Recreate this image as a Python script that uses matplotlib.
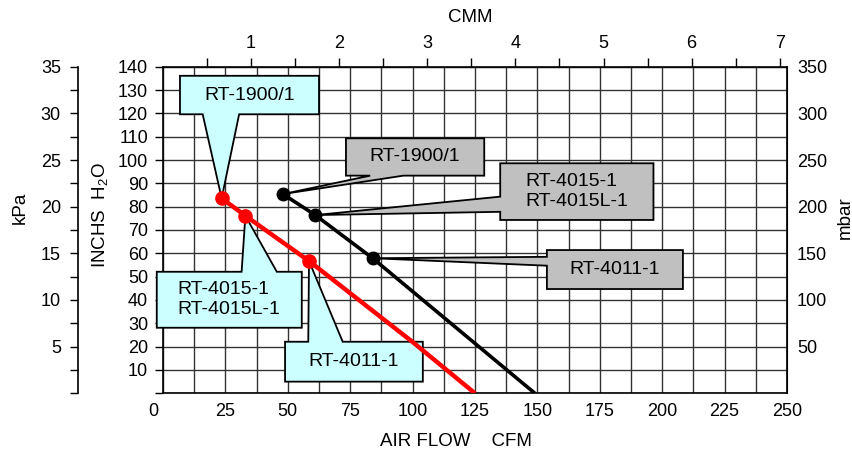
import matplotlib
matplotlib.use("Agg")
import matplotlib.pyplot as plt
import numpy as np
from matplotlib.patches import Polygon
from matplotlib.transforms import ScaledTranslation

plt.rcParams["font.family"] = ["Liberation Sans", "DejaVu Sans"]
plt.rcParams["mathtext.fontset"] = "custom"
plt.rcParams["mathtext.rm"] = "Liberation Sans"

# performance curves: air flow (CFM) vs pressure (inches H2O)
red_cfm = [23.5, 33.0, 58.5, 100.0, 125.0]
red_h2o = [83.6, 76.1, 56.7, 22.0, 0.0]
black_cfm = [48.0, 61.0, 84.0, 149.0]
black_h2o = [85.4, 76.4, 57.9, 0.0]
n_marked = 3  # first points of each curve carry a model marker

models = ["RT-1900/1", "RT-4015-1\nRT-4015L-1", "RT-4011-1"]

x_ticks = np.arange(0, 251, 25)
y_ticks = np.arange(0, 141, 10)
kpa_ticks = np.arange(5, 36, 5)
mbar_ticks = np.arange(50, 351, 50)
cmm_ticks = np.arange(1, 8)

# callout layout in data units: (x0, x1, y0, y1) box and (side, start, end) of the pointer base
red_boxes = [(6.8, 62.5, 119.6, 136.1), (-2.5, 55.6, 28.1, 52.1), (48.9, 104.1, 5.0, 22.1)]
red_bases = [("bottom", 15.9, 30.5), ("top", 31.5, 45.6), ("top", 58.2, 72.0)]
black_boxes = [(73.3, 128.7, 93.3, 109.3), (135.1, 196.5, 74.3, 98.6), (153.8, 208.3, 44.7, 61.4)]
black_bases = [("bottom", 83.0, 96.3), ("left", 77.8, 84.3), ("left", 54.7, 58.5)]

CYAN = "#ccffff"
GRAY = "#c0c0c0"


def callout(ax, tip, box, base, text, color):
    x0, x1, y0, y1 = box
    side, b0, b1 = base
    if side == "bottom":
        pts = [(x0, y1), (x1, y1), (x1, y0), (b1, y0), tip, (b0, y0), (x0, y0)]
    elif side == "top":
        pts = [(x0, y0), (x1, y0), (x1, y1), (b1, y1), tip, (b0, y1), (x0, y1)]
    else:
        pts = [(x1, y1), (x1, y0), (x0, y0), (x0, b0), tip, (x0, b1), (x0, y1)]
    ax.add_patch(Polygon(pts, closed=True, fc=color, ec="black", lw=1.3,
                         zorder=3, clip_on=False, joinstyle="miter"))
    ax.text((x0 + x1) / 2, (y0 + y1) / 2, text, ha="center", va="center",
            multialignment="left", fontsize=14, linespacing=1.2, zorder=6)


fig = plt.figure(figsize=(8.53, 4.55), dpi=100)
ax = fig.add_axes([163 / 853, 1 - 393.3 / 455, 624 / 853, 326.6 / 455])

ax.set_xlim(0, 250)
ax.set_ylim(0, 140)
ax.set_xticks(x_ticks)
ax.set_xticks(np.arange(0, 251, 12.5), minor=True)
ax.set_yticks(y_ticks)
ax.set_yticklabels([""] + [str(v) for v in y_ticks[1:]])
ax.set_axisbelow(True)
ax.grid(which="both", color="#333333", lw=1.0)
ax.tick_params(axis="x", which="both", length=0, pad=7, labelsize=13)
ax.tick_params(axis="y", length=5.8, width=1, pad=5, labelsize=13)
for sp in ax.spines.values():
    sp.set_linewidth(1.2)

# curves
ax.plot(red_cfm, red_h2o, color="#ff0000", lw=3.2, zorder=4, solid_capstyle="butt")
ax.plot(black_cfm, black_h2o, color="black", lw=2.6, zorder=4, solid_capstyle="butt")
ax.plot(red_cfm[:n_marked], red_h2o[:n_marked], "o", color="#ff0000", ms=9.5, zorder=5)
ax.plot(black_cfm[:n_marked], black_h2o[:n_marked], "o", color="black", ms=9, zorder=5)

for i in range(n_marked):
    callout(ax, (red_cfm[i], red_h2o[i]), red_boxes[i], red_bases[i], models[i], CYAN)
    callout(ax, (black_cfm[i], black_h2o[i]), black_boxes[i], black_bases[i], models[i], GRAY)

# secondary scales
kpa = ax.secondary_yaxis(-85 / 624, functions=(lambda v: v / 4, lambda v: v * 4))
kpa.set_yticks(kpa_ticks)
kpa.set_yticks(np.arange(0, 36, 2.5), minor=True)
kpa.tick_params(which="both", direction="out", length=5.8, width=1, pad=6.5, labelsize=13)
kpa.spines["left"].set_linewidth(1.2)

mbar = ax.secondary_yaxis("right", functions=(lambda v: v * 2.5, lambda v: v / 2.5))
mbar.set_yticks(mbar_ticks)
mbar.tick_params(length=0, pad=7.2, labelsize=13)

cmm = ax.secondary_xaxis("top", functions=(lambda v: v / 35.3, lambda v: v * 35.3))
cmm.set_xticks(cmm_ticks)
cmm.set_xticks(np.arange(0.5, 7.01, 0.5), minor=True)
cmm.tick_params(which="both", direction="out", length=6.5, width=1, pad=4, labelsize=13)

# the "0" label sits left of its gridline in the original
lbl0 = ax.xaxis.get_major_ticks()[0].label1
lbl0.set_transform(lbl0.get_transform() + ScaledTranslation(-0.1, 0, fig.dpi_scale_trans))

fig.text(20 / 853, 1 - 208 / 455, "kPa", rotation=90, ha="center", va="center", fontsize=13.5)
fig.text(100.5 / 853, 1 - 215.5 / 455, "INCHS  H$_2$O", rotation=90, ha="center", va="center", fontsize=13.5)
fig.text(845 / 853, 1 - 218 / 455, "mbar", rotation=90, ha="center", va="center", fontsize=13.5)
fig.text(470 / 853, 1 - 17 / 455, "CMM", ha="center", va="center", fontsize=13.5)
fig.text(456 / 853, 1 - 442 / 455, "AIR FLOW    CFM", ha="center", va="center", fontsize=13.5)

fig.savefig("out.png", dpi=100)
